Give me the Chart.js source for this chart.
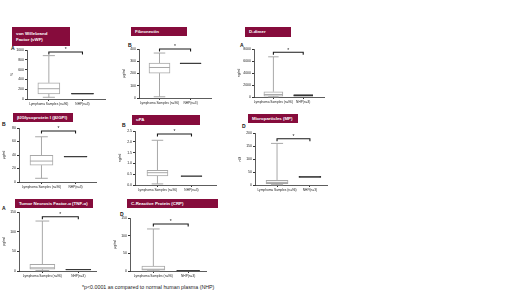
<!DOCTYPE html>
<html><head><meta charset="utf-8">
<script src="https://cdn.jsdelivr.net/npm/chart.js@4.4.0/dist/chart.umd.min.js"></script>
<style>
html,body{margin:0;padding:0;background:#fff;width:520px;height:292px;overflow:hidden;font-family:"Liberation Sans",Arial,sans-serif;}
.t{position:absolute;background:#860c3c;color:#fff;font-weight:bold;font-size:4.4px;line-height:5.6px;padding-left:4px;box-sizing:border-box;display:flex;align-items:center;white-space:pre-line;overflow:hidden;}
.t sub{font-size:3.2px;line-height:0;vertical-align:-0.8px;}
.l{position:absolute;font-weight:bold;font-size:5px;line-height:5px;color:#111;}
canvas{position:absolute;}
.fn{position:absolute;left:82px;top:284px;font-size:5.3px;line-height:6px;color:#222;white-space:nowrap;}
</style></head><body>
<div id="root"></div>
<div class="fn">*p&lt;0.0001 as compared to normal human plasma (NHP)</div>
<script>
// ---------- data ----------
const categories = ['Lymphoma Samples (n=96)', 'NHP(n=3)'];
const panelTitles = ['von Willebrand\nFactor (vWF)', 'Fibronectin', 'D-dimer',
  'β<sub>2</sub> Glycoprotein I (β<sub>2</sub> GPI)', 'uPA', 'Microparticles (MP)',
  'Tumor Necrosis Factor-α (TNF-α)', 'C-Reactive Protein (CRP)'];
const panelLetters = ['A', 'B', 'A', 'B', 'B', 'D', 'A', 'D'];
const yUnits = ['%', 'μg/ml', 'ng/ml', 'μg/ml', 'ng/ml', 'nM', 'pg/ml', 'μg/ml'];
const yMax  = [1000, 400, 8000, 80, 2.5, 200, 150, 150];
const yStep = [200, 100, 2000, 20, 0.5, 50, 50, 50];
// Lymphoma samples box plot
const lymphMin    = [35, 10, 30, 5.5, 0.05, 1, 1, 0.5];
const lymphQ1     = [105, 203, 150, 25, 0.42, 5, 4.5, 2.5];
const lymphMedian = [210, 249, 420, 31, 0.57, 10, 8, 5];
const lymphQ3     = [330, 285, 880, 39.5, 0.68, 18, 17, 14];
const lymphMax    = [885, 367, 6700, 67, 2.07, 160, 127, 119];
// NHP box
const nhpLow    = [100, 280, 120, 37, 0.40, 29, 2.5, 0.5];
const nhpMedian = [110, 283, 250, 37.5, 0.41, 31, 3.5, 1];
const nhpHigh   = [118, 286, 400, 38, 0.42, 33, 4.5, 1.5];
// significance bracket level
const bracketLevel = [960, 400, 7450, 75.5, 2.36, 178, 138, 133];

// ---------- layout (positions / styles) ----------
const layout = [
  {title:[12,27,58,19], letter:[11,46], axis:[27,50,106,99], bw:22, xmin:-0.65, xmax:1.70, dec:0},
  {title:[131,27,56,9], letter:[128,43], axis:[139,49.3,212,98], bw:21, xmin:-0.66, xmax:1.69, dec:0},
  {title:[245,27,46,10], letter:[240,43], axis:[254,49,325,97], bw:19, xmin:-0.65, xmax:1.73, dec:0},
  {title:[13,113,60,9], letter:[2,122], axis:[19,128.3,97,182.3], bw:23, xmin:-0.66, xmax:1.63, dec:0},
  {title:[132,115,68,10], letter:[122,123], axis:[135,131,217,185], bw:21, xmin:-0.66, xmax:1.75, dec:1},
  {title:[248,114,50,9], letter:[242,124], axis:[255,133.3,328,185.3], bw:22, xmin:-0.67, xmax:1.55, dec:0},
  {title:[15,199,78,9], letter:[2,206], axis:[19,212.3,97,271], bw:25, xmin:-0.65, xmax:1.52, dec:0},
  {title:[127,199,91,9], letter:[120,212], axis:[130,218.3,207,271], bw:23, xmin:-0.67, xmax:1.54, dec:0}
];
const YW = 17, XH = 10, PT = 5;
const FONT = '"Liberation Sans", Arial, sans-serif';

const boxPlugin = {
  id: 'boxExtras',
  afterDatasetsDraw(chart, args, opts) {
    const i = opts.panel, L = layout[i];
    const xs = chart.scales.x, ys = chart.scales.y, ctx = chart.ctx;
    const c0 = xs.getPixelForValue(0), c1 = xs.getPixelForValue(1);
    const bw = L.bw, cap = bw * 0.55;
    const Y = v => ys.getPixelForValue(v);
    const line = (a, b, c, d) => { ctx.beginPath(); ctx.moveTo(a, b); ctx.lineTo(c, d); ctx.stroke(); };
    ctx.save();
    ctx.strokeStyle = '#a8a8a8'; ctx.lineWidth = 1;
    line(c0, Y(lymphQ3[i]), c0, Y(lymphMax[i]));
    line(c0 - cap/2, Y(lymphMax[i]), c0 + cap/2, Y(lymphMax[i]));
    line(c0, Y(lymphQ1[i]), c0, Y(lymphMin[i]));
    line(c0 - cap/2, Y(lymphMin[i]), c0 + cap/2, Y(lymphMin[i]));
    line(c0 - bw/2, Y(lymphMedian[i]), c0 + bw/2, Y(lymphMedian[i]));
    ctx.strokeStyle = '#333';
    line(c1 - bw/2, Y(nhpMedian[i]), c1 + bw/2, Y(nhpMedian[i]));
    // bracket
    const yb = Y(bracketLevel[i]);
    ctx.strokeStyle = '#1a1a1a'; ctx.lineWidth = 1.1;
    ctx.beginPath(); ctx.moveTo(c0, yb + 2.5); ctx.lineTo(c0, yb); ctx.lineTo(c1, yb); ctx.lineTo(c1, yb + 2.5); ctx.stroke();
    ctx.fillStyle = '#1a1a1a'; ctx.font = '5px ' + FONT; ctx.textAlign = 'center'; ctx.textBaseline = 'bottom';
    ctx.fillText('*', (c0 + c1) / 2, yb + 0.5);
    ctx.restore();
  }
};

const root = document.getElementById('root');
layout.forEach((L, i) => {
  const t = document.createElement('div');
  t.className = 't';
  t.style.left = L.title[0] + 'px'; t.style.top = L.title[1] + 'px';
  t.style.width = L.title[2] + 'px'; t.style.height = L.title[3] + 'px';
  t.innerHTML = panelTitles[i];
  root.appendChild(t);
  const l = document.createElement('div');
  l.className = 'l';
  l.style.left = L.letter[0] + 'px'; l.style.top = L.letter[1] + 'px';
  l.textContent = panelLetters[i];
  root.appendChild(l);

  const [ax, ay, ar, ab] = L.axis;
  const left = ax - YW, top = ay - PT;
  const w = Math.round(ar - left), h = Math.round(ab + XH - top);
  const cv = document.createElement('canvas');
  cv.width = w; cv.height = h;
  cv.style.left = left + 'px'; cv.style.top = top + 'px';
  cv.style.width = w + 'px'; cv.style.height = h + 'px';
  root.appendChild(cv);

  new Chart(cv, {
    type: 'bar',
    data: {
      datasets: [{
        data: [{x: 0, y: [lymphQ1[i], lymphQ3[i]]}, {x: 1, y: [nhpLow[i], nhpHigh[i]]}],
        backgroundColor: ['#ffffff', '#555555'],
        borderColor: ['#a8a8a8', '#333333'],
        borderWidth: 1,
        borderSkipped: false,
        barThickness: L.bw
      }]
    },
    options: {
      responsive: false, animation: false, devicePixelRatio: 1,
      layout: {padding: {top: PT, left: 0, right: 0, bottom: 0}},
      plugins: {legend: {display: false}, tooltip: {enabled: false}, boxExtras: {panel: i}},
      scales: {
        x: {
          type: 'linear', min: L.xmin, max: L.xmax, offset: false,
          grid: {display: true, drawOnChartArea: false, tickLength: 2, color: '#333', offset: false},
          border: {color: '#333', width: 0.8},
          afterBuildTicks: s => { s.ticks = [{value: 0}, {value: 1}]; },
          afterFit: s => { s.height = XH; },
          ticks: {autoSkip: false, maxRotation: 0, minRotation: 0, padding: 1,
                  font: {size: 3.2, family: FONT}, color: '#222',
                  callback: v => categories[v]}
        },
        y: {
          min: 0, max: yMax[i],
          grid: {display: true, drawOnChartArea: false, tickLength: 2, color: '#333'},
          border: {color: '#333', width: 0.8},
          afterFit: s => { s.width = YW; },
          title: {display: true, text: yUnits[i], font: {size: 3.5, family: FONT}, color: '#222', padding: 0},
          ticks: {stepSize: yStep[i], padding: 1, font: {size: 3.5, family: FONT}, color: '#222',
                  callback: v => Number(v).toFixed(L.dec)}
        }
      }
    },
    plugins: [boxPlugin]
  });
});
</script>
</body></html>
